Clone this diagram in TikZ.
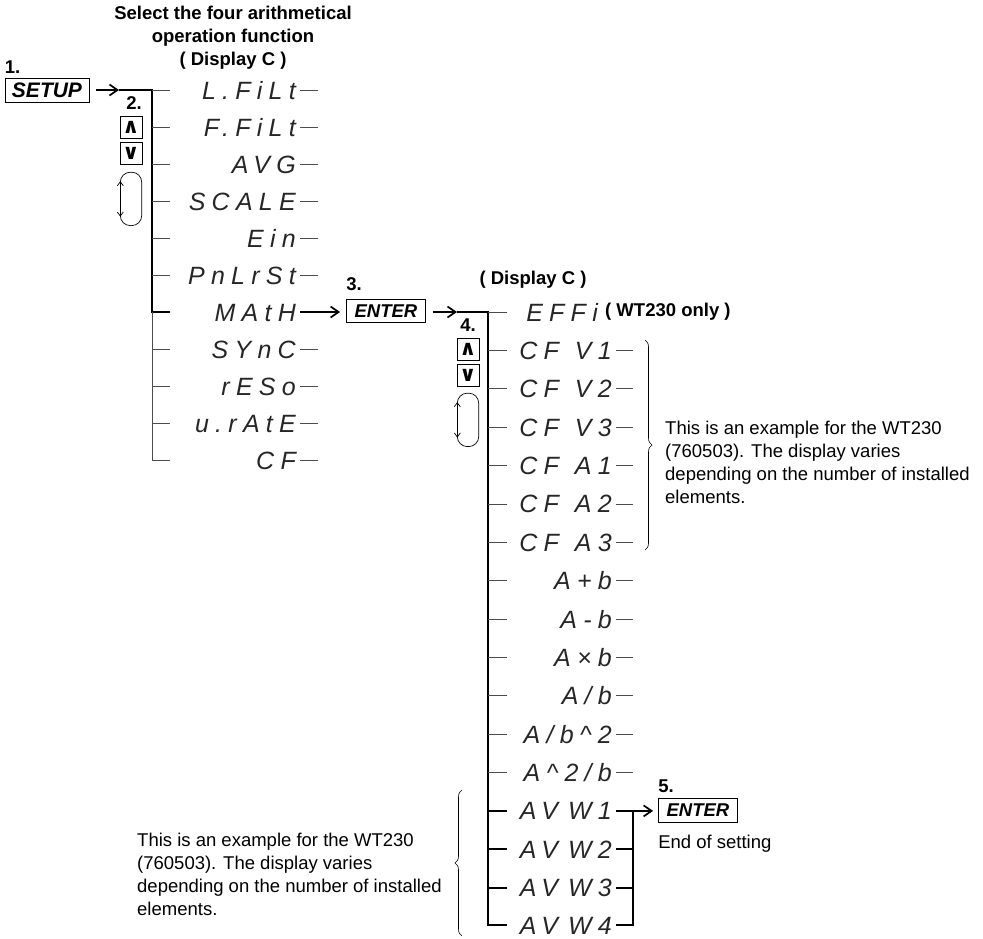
\documentclass[tikz,border=0pt]{standalone}
\usepackage{fontspec}
\setmainfont{Liberation Sans}
\newfontfamily\segfont{Liberation Sans}[LetterSpace=25]
\newfontfamily\keysym{DejaVu Sans}
\usepackage{tikz}
\usetikzlibrary{arrows.meta,positioning,decorations.pathreplacing}
\tikzset{
  key/.style={draw=black,line width=0.8pt,font=\bfseries\itshape,minimum width=79pt,minimum height=23pt,inner sep=2pt},
  btn/.style={draw=black,line width=0.8pt,minimum size=22pt,inner sep=0pt,font=\keysym\bfseries\fontsize{21}{21}\selectfont},
  num/.style={font=\bfseries,inner sep=0pt},
  seg/.style={font=\segfont\itshape\fontsize{25}{25}\selectfont,text=black!85,anchor=east,inner sep=0pt,text height=18pt,text depth=0pt},
  loopbox/.style={minimum width=21pt,minimum height=53pt,inner sep=0pt},
  spine/.style={line width=2pt},
  tick/.style={line width=0.7pt,draw=black!70},
  flow/.style={-{Straight Barb[length=8pt,width=11pt]},line width=1.7pt},
  note/.style={align=left,anchor=north west,inner sep=0pt},
  brc/.style={decorate,decoration={brace,amplitude=7pt},line width=0.6pt}
}
\newcommand{\scrollloop}[1]{%
  \draw[line width=0.7pt,rounded corners=10pt] ([yshift=-11pt]#1.north west) -- (#1.north west) -- (#1.north east) -- (#1.south east) -- (#1.south west) -- ([yshift=11pt]#1.south west);
  \draw[line width=0.7pt,{Straight Barb[length=4pt,width=6pt]}-{Straight Barb[length=4pt,width=6pt]}] ([yshift=-9pt]#1.north west) -- ([yshift=9pt]#1.south west);}

\begin{document}
\fontsize{18.5}{23}\selectfont
\begin{tikzpicture}[x=1pt,y=-1pt]
  \useasboundingbox (0,0) rectangle (983,938);
  % step 1 and 2
  \node[font=\bfseries,align=center] (title) at (233,38) {Select the four arithmetical\\operation function\\( Display C )};
  \node[key,font=\bfseries\itshape\fontsize{21}{21}\selectfont,minimum width=84pt,minimum height=24pt] (setup) at (47,90) {SETUP};
  \node[num,above right=4pt and 0pt of setup.north west] (n1) {1.};
  \node[num] (n2) at (134,103) {2.};
  \node[btn] (up2) at (131,127) {∧};
  \node[btn,below=4pt of up2] (dn2) {∨};
  \node[loopbox,below=7pt of dn2] (lp2) {};
  \scrollloop{lp2}
  \coordinate (s2in) at (119,90); \coordinate (sp2) at (152,90); \coordinate (tk2) at (170,90);
  \node[seg] (lfilt) at (296,90) {L.FiLt};
  \node[seg] (ffilt) at (296,127) {F.FiLt};
  \node[seg] (avg) at (296,164) {AVG};
  \node[seg] (scale) at (296,201) {SCALE};
  \node[seg] (ein) at (296,238) {Ein};
  \node[seg] (pnlrst) at (296,275) {PnLrSt};
  \node[seg] (math) at (296,312) {MAtH};
  \node[seg] (sync) at (296,349) {SYnC};
  \node[seg] (reso) at (296,386) {rESo};
  \node[seg] (urate) at (296,423) {u.rAtE};
  \node[seg] (cf) at (296,460) {CF};
  \draw[flow,shorten <=7pt] (setup) -- (s2in);
  \draw[spine] (s2in) -- (sp2) -- (sp2 |- math) -- (math -| tk2);
  \draw[tick] (sp2 |- math) -- (sp2 |- cf);
  \foreach \n in {lfilt,ffilt,avg,scale,ein,pnlrst,sync,reso,urate,cf}
    \draw[tick] (\n -| sp2) -- (\n -| tk2) ([xshift=4pt]\n.east) -- ++(18,0);
  % step 3
  \node[key] (enter3) at (386,311) {ENTER};
  \node[num,above right=8pt and 0pt of enter3.north west] (n3) {3.};
  \draw[flow,shorten >=6pt] ([xshift=4pt]math.east) -- (math -| enter3.west);
  % step 4
  \node[font=\bfseries] (disp4) at (533,280) {( Display C )};
  \node[num] (n4) at (468,325) {4.};
  \node[btn,below=6pt of n4] (up4) {∧};
  \node[btn,below=4pt of up4] (dn4) {∨};
  \node[loopbox,below=6pt of dn4] (lp4) {};
  \scrollloop{lp4}
  \coordinate (e4in) at (457,312); \coordinate (sp4) at (488,312); \coordinate (tk4) at (507,312); \coordinate (wbr) at (633,312);
  \node[seg] (eff) at (598,312) {EFFi};
  \node[font=\bfseries,inner sep=0pt,right=7pt of eff] (wtonly) {( WT230 only )};
  \node[seg] (cfv1) at (612,350.4) {CF\hspace{16pt}V1};
  \node[seg] (cfv2) at (612,388.8) {CF\hspace{16pt}V2};
  \node[seg] (cfv3) at (612,427.1) {CF\hspace{16pt}V3};
  \node[seg] (cfa1) at (612,465.5) {CF\hspace{16pt}A1};
  \node[seg] (cfa2) at (612,503.9) {CF\hspace{16pt}A2};
  \node[seg] (cfa3) at (612,542.3) {CF\hspace{16pt}A3};
  \node[seg] (apb) at (612,580.6) {A+b};
  \node[seg] (amb) at (612,619) {A-b};
  \node[seg] (axb) at (612,657.4) {A×b};
  \node[seg] (adb) at (612,695.8) {A/b};
  \node[seg] (adbb) at (612,734.1) {A/b\textasciicircum2};
  \node[seg] (aadb) at (612,772.5) {A\textasciicircum2/b};
  \node[seg] (avw1) at (612,810.9) {AV\hspace{10pt}W1};
  \node[seg] (avw2) at (612,849.3) {AV\hspace{10pt}W2};
  \node[seg] (avw3) at (612,887.6) {AV\hspace{10pt}W3};
  \node[seg] (avw4) at (612,925) {AV\hspace{10pt}W4};
  \draw[flow,shorten <=7pt] (enter3.east |- e4in) -- (e4in);
  \draw[spine] (e4in) -- (sp4) -- (sp4 |- avw4) -- (avw4 -| tk4);
  \foreach \n in {eff,cfv1,cfv2,cfv3,cfa1,cfa2,cfa3,apb,amb,axb,adb,adbb,aadb}
    \draw[tick] (\n -| sp4) -- (\n -| tk4);
  \foreach \n in {cfv1,cfv2,cfv3,cfa1,cfa2,cfa3,apb,amb,axb,adb,adbb,aadb}
    \draw[tick] ([xshift=4pt]\n.east) -- (\n -| wbr);
  \draw[spine] (avw1 -| sp4) -- (avw1 -| tk4) (avw2 -| sp4) -- (avw2 -| tk4) (avw3 -| sp4) -- (avw3 -| tk4);
  \draw[spine] ([xshift=4pt]avw1.east) -- (avw1 -| wbr) -- (avw4 -| wbr) -- ([xshift=4pt]avw4.east);
  \draw[spine] ([xshift=4pt]avw2.east) -- (avw2 -| wbr) ([xshift=4pt]avw3.east) -- (avw3 -| wbr);
  % step 5
  \node[key,minimum height=24pt] (enter5) at (698,810) {ENTER};
  \node[num,above right=5pt and 0pt of enter5.north west] (n5) {5.};
  \node[inner sep=0pt,below right=12pt and 0pt of enter5.south west] (endset) {End of setting};
  \draw[flow,shorten >=5pt] (avw1 -| wbr) -- (avw1 -| enter5.west);
  % notes
  \coordinate (bra) at (645,340); \coordinate (brb) at (645,550);
  \draw[brc] (bra) -- (brb);
  \node[note] (note1) at (665,421) {This is an example for the WT230\\(760503). The display varies\\depending on the number of installed\\elements.};
  \coordinate (brc) at (462,936); \coordinate (brd) at (462,790);
  \draw[brc] (brc) -- (brd);
  \node[note] (note2) at (137,833) {This is an example for the WT230\\(760503). The display varies\\depending on the number of installed\\elements.};
\end{tikzpicture}
\end{document}
